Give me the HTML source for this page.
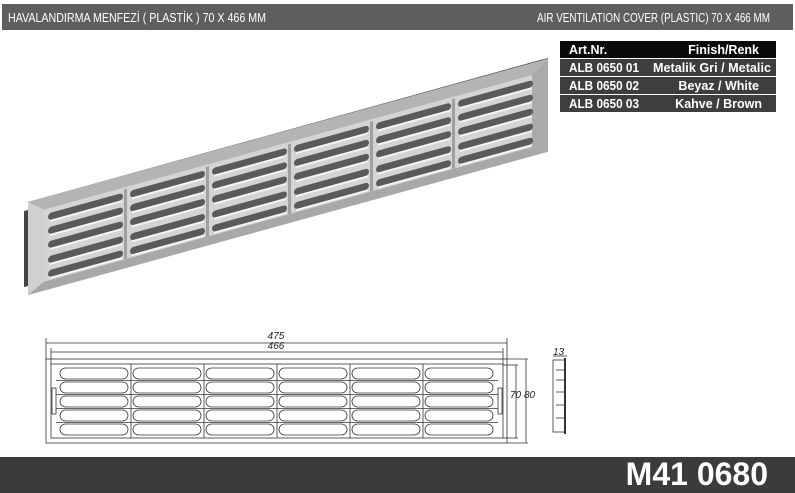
<!DOCTYPE html>
<html><head><meta charset="utf-8"><style>
html,body{margin:0;padding:0;background:#fff;}
body{width:795px;height:493px;overflow:hidden;position:relative;font-family:"Liberation Sans",sans-serif;}
</style></head><body>
<svg width="795" height="493" viewBox="0 0 795 493" xmlns="http://www.w3.org/2000/svg" style="position:absolute;left:0;top:0">
<!-- header -->
<rect x="2" y="4" width="791" height="26" fill="#5e5e5e"/>
<text x="8" y="22" fill="#fff" font-size="13" font-family="Liberation Sans Narrow, Liberation Sans, sans-serif" textLength="258" lengthAdjust="spacingAndGlyphs">HAVALANDIRMA MENFEZİ ( PLASTİK ) 70 X 466 MM</text>
<text x="537" y="22" fill="#fff" font-size="13" font-family="Liberation Sans Narrow, Liberation Sans, sans-serif" textLength="233" lengthAdjust="spacingAndGlyphs">AIR VENTILATION COVER (PLASTIC) 70 X 466 MM</text>
<!-- table -->
<rect x="560" y="41" width="216" height="17" fill="#0a0a0a"/>
<rect x="560" y="59" width="216" height="17" fill="#3e3e3e"/>
<rect x="560" y="77" width="216" height="17" fill="#3e3e3e"/>
<rect x="560" y="95" width="216" height="17" fill="#3e3e3e"/>
<g fill="#fff" font-size="12.5" font-weight="bold">
<text x="569" y="54">Art.Nr.</text>
<text x="759" y="54" text-anchor="end">Finish/Renk</text>
<text x="569" y="72" textLength="70" lengthAdjust="spacingAndGlyphs">ALB 0650 01</text>
<text x="771" y="72" text-anchor="end" textLength="118" lengthAdjust="spacingAndGlyphs">Metalik Gri / Metalic</text>
<text x="569" y="90" textLength="70" lengthAdjust="spacingAndGlyphs">ALB 0650 02</text>
<text x="759" y="90" text-anchor="end">Beyaz / White</text>
<text x="569" y="108" textLength="70" lengthAdjust="spacingAndGlyphs">ALB 0650 03</text>
<text x="762" y="108" text-anchor="end">Kahve / Brown</text>
</g>
<!-- 3D vent -->
<polygon points="28,202 540,60 548,58 548,63 30,206" fill="#555"/>
<g transform="matrix(1,-0.2755,0,1,28,202)">
 <rect x="-4" y="8" width="4" height="76" fill="#444"/>
 <rect x="0" y="0" width="520" height="93" fill="#c8c8c8"/>
 <polygon points="0,0 520,0 504,12 16,12" fill="#b4b4b4"/>
 <polygon points="0,93 520,93 504,84 16,84" fill="#a8a8a8"/>
 <polygon points="0,0 16,12 16,84 0,93" fill="#d0d0d0"/>
 <polygon points="520,0 504,12 504,84 520,93" fill="#aaa"/>
 <rect x="16" y="12" width="488" height="72" fill="#d4d4d4"/>
 <g fill="#5a5a5a">
  <g id="grp">
   <rect x="20" y="17" width="75" height="7" rx="3.5"/>
   <rect x="20" y="31" width="75" height="7" rx="3.5"/>
   <rect x="20" y="45" width="75" height="7" rx="3.5"/>
   <rect x="20" y="60" width="75" height="7" rx="3.5"/>
   <rect x="20" y="74" width="75" height="7" rx="3.5"/>
   <rect x="22" y="24" width="72" height="2" fill="#f4f4f4"/>
   <rect x="22" y="38" width="72" height="2" fill="#f4f4f4"/>
   <rect x="22" y="52" width="72" height="2" fill="#f4f4f4"/>
   <rect x="22" y="67" width="72" height="2" fill="#f4f4f4"/>
   <rect x="22" y="81" width="72" height="2" fill="#f4f4f4"/>
  </g>
  <use href="#grp" x="82"/><use href="#grp" x="164"/><use href="#grp" x="246"/><use href="#grp" x="328"/><use href="#grp" x="410"/>
 </g>
 <g fill="#a0a0a0">
  <rect x="96" y="14" width="3" height="70"/><rect x="178" y="14" width="3" height="70"/><rect x="260" y="14" width="3" height="70"/><rect x="342" y="14" width="3" height="70"/><rect x="424" y="14" width="3" height="70"/>
 </g>
</g>
<!-- 2D drawing -->
<g stroke="#333" fill="none" stroke-width="0.8">
 <line x1="46" y1="343" x2="507" y2="343"/><line x1="46" y1="338" x2="46" y2="360"/><line x1="507" y1="338" x2="507" y2="360"/>
 <line x1="51" y1="352" x2="503" y2="352"/><line x1="51" y1="348" x2="51" y2="365"/><line x1="503" y1="348" x2="503" y2="365"/>
 <rect x="46" y="359" width="461" height="84"/>
 <rect x="51" y="364" width="452" height="74"/>
 <line x1="503" y1="365" x2="518" y2="365"/><line x1="503" y1="438" x2="518" y2="438"/>
 <line x1="507" y1="359" x2="528" y2="359"/><line x1="507" y1="443" x2="528" y2="443"/>
 <line x1="516" y1="365" x2="516" y2="438"/><line x1="526" y1="359" x2="526" y2="443"/>
 <g id="r2">
  <rect x="60" y="368" width="68" height="11" rx="5.5"/>
  <rect x="60" y="382" width="68" height="11" rx="5.5"/>
  <rect x="60" y="396" width="68" height="11" rx="5.5"/>
  <rect x="60" y="410" width="68" height="11" rx="5.5"/>
  <rect x="60" y="424" width="68" height="11" rx="5.5"/>
 </g>
 <use href="#r2" x="73"/><use href="#r2" x="146"/><use href="#r2" x="219"/><use href="#r2" x="292"/><use href="#r2" x="365"/>
 <line x1="131" y1="364" x2="131" y2="438"/><line x1="204" y1="364" x2="204" y2="438"/><line x1="277" y1="364" x2="277" y2="438"/><line x1="350" y1="364" x2="350" y2="438"/><line x1="423" y1="364" x2="423" y2="438"/>
 <line x1="56" y1="380.5" x2="498" y2="380.5"/><line x1="56" y1="394.5" x2="498" y2="394.5"/><line x1="56" y1="408.5" x2="498" y2="408.5"/><line x1="56" y1="422.5" x2="498" y2="422.5"/>
 <rect x="52" y="388" width="4" height="26"/><rect x="498" y="388" width="4" height="26"/>
 <!-- side view -->
 <rect x="553" y="360" width="12" height="72"/>
 <line x1="565" y1="358" x2="565" y2="434" stroke-width="2"/>
 <line x1="553" y1="356" x2="567" y2="356"/>
 <line x1="556" y1="370" x2="564" y2="370"/><line x1="556" y1="380" x2="564" y2="380"/><line x1="556" y1="392" x2="564" y2="392"/><line x1="556" y1="405" x2="564" y2="405"/><line x1="556" y1="418" x2="564" y2="418"/>
</g>
<g fill="#222" font-size="10" font-style="italic">
 <text x="276" y="339" text-anchor="middle">475</text>
 <text x="276" y="349" text-anchor="middle">466</text>
 <text x="510" y="398">70</text>
 <text x="524" y="398">80</text>
 <text x="553" y="355">13</text>
</g>
<!-- bottom bar -->
<rect x="0" y="457" width="795" height="36" fill="#3b3b3b"/>
<text x="768" y="485" text-anchor="end" fill="#fff" font-size="32" font-weight="bold">M41 0680</text>
</svg>
</body></html>
